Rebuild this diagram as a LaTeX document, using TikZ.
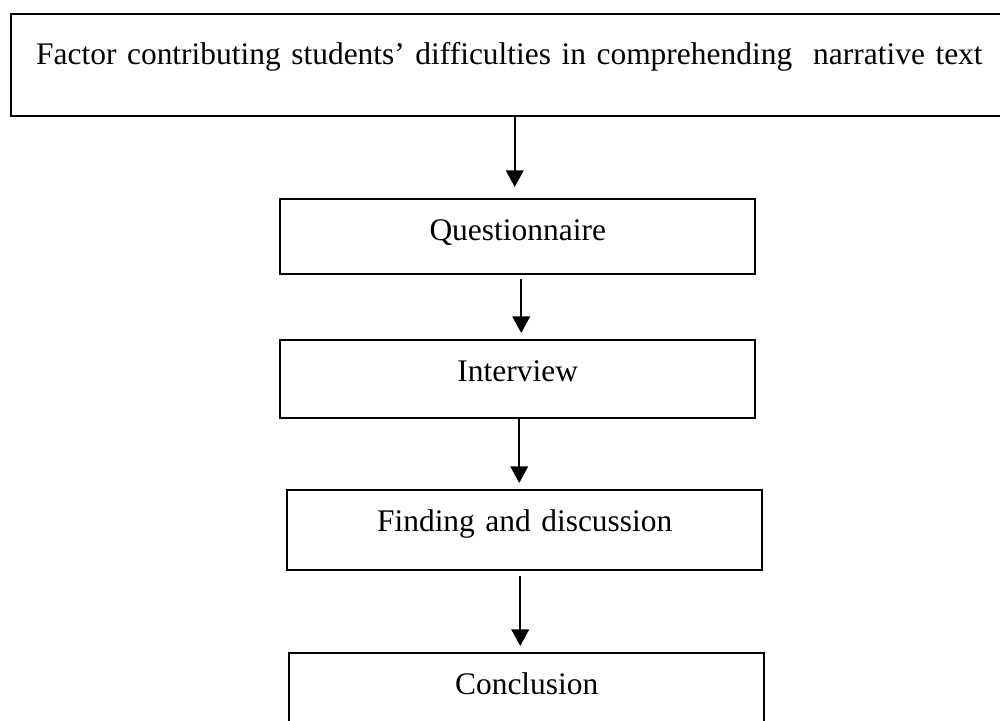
\documentclass[tikz,border=0pt]{standalone}
\usepackage{fontspec}
\setmainfont{Liberation Serif}
\usepackage{tikz}
\usetikzlibrary{arrows.meta}

\begin{document}
\begin{tikzpicture}[
    box/.style={shape=rectangle, draw, line width=1.4pt, inner xsep=0pt, inner ysep=0pt, anchor=north west,
      text width=9.5cm, align=center, text height=0.82cm, font=\fontsize{17.9}{21}\selectfont},
    arr/.style={line width=1.3pt, -{Triangle[length=9.5pt,width=10pt]}, shorten >=0.12cm}]
    \clip (0,0) rectangle (20,14.4);

    \node[box, text width=19.1cm, inner xsep=0.5cm, align=left, text height=1.0cm, text depth=1.04cm] (factor) at (0.2,14.14)
      {Factor contributing students’ difficulties in comprehending~ narrative text};
    \node[box, text depth=0.68cm] (quest) at (5.58,10.44) {Questionnaire};
    \node[box, text depth=0.74cm] (inter) at (5.58,7.62) {Interview};
    \node[box, text depth=0.78cm] (find) at (5.72,4.62) {Finding and discussion};
    \node[box, text depth=0.8cm] (conc) at (5.76,1.36) {Conclusion};

    \draw[arr, shorten >=0.22cm] ([xshift=-0.06cm]quest.north |- factor.south) -- ([xshift=-0.06cm]quest.north);
    \draw[arr, shorten <=0.08cm] ([xshift=0.07cm]quest.south) -- ([xshift=0.07cm]inter.north);
    \draw[arr] ([xshift=0.03cm]inter.south) -- ([xshift=0.03cm]inter.south |- find.north);
    \draw[arr, shorten <=0.1cm] ([xshift=-0.09cm]find.south) -- ([xshift=-0.09cm]find.south |- conc.north);
\end{tikzpicture}
\end{document}
